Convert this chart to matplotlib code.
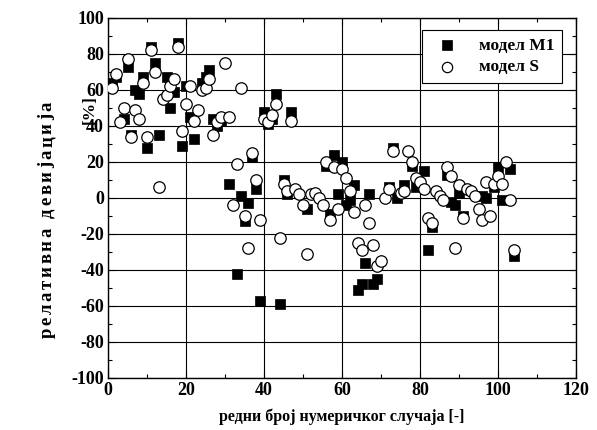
import matplotlib
matplotlib.use("Agg")
import matplotlib.pyplot as plt
from matplotlib.ticker import MultipleLocator

# ---- data ----
m1_case = [1, 2, 4, 5, 6, 7, 8, 9, 10, 11, 12, 13, 15, 16, 17, 18, 19, 20, 21, 22,
           24, 25, 26, 27, 28, 29, 31, 33, 34, 35, 36, 37, 38, 39, 40, 41, 42, 43, 44,
           45, 46, 47, 51, 56, 57, 58, 59, 60, 61, 62, 63, 64, 65, 66, 67, 68, 69,
           72, 73, 74, 76, 78, 79, 81, 82, 83, 87, 88, 89, 90, 91, 96, 97, 99, 100,
           101, 103, 104]
m1_val = [64, 67, 44, 73, 35, 60, 58, 67, 28, 84, 75, 35, 67, 50, 59, 86, 29, 62, 45, 33,
          64, 67, 71, 44, 40, 43, 8, -42, 1, -13, -3, 23, 5, -57, 48, 41, 44, 58, -59,
          10, 2, 48, -6, 18, -9, 24, 2, 20, -4, -1, 7, -51, -48, -36, 2, -48, -45,
          6, 28, 0, 7, 18, 6, 15, -29, -16, 13, -2, -4, 3, -10, 1, 0, 6, 17,
          -1, 16, -32]

s_case = [1, 2, 3, 4, 5, 6, 7, 8, 9, 10, 11, 12, 13, 14, 15, 16, 17, 18, 19, 20,
          21, 22, 23, 24, 25, 26, 27, 28, 29, 30, 31, 32, 33, 34, 35, 36, 37, 38, 39,
          40, 41, 42, 43, 44, 45, 46, 47, 48, 49, 50, 51, 52, 53, 54, 55, 56, 57, 58,
          59, 60, 61, 62, 63, 64, 65, 66, 67, 68, 69, 70, 71, 72, 73, 75, 76, 77, 78,
          79, 80, 81, 82, 83, 84, 85, 86, 87, 88, 89, 90, 91, 92, 93, 94, 95, 96, 97,
          98, 99, 100, 101, 102, 103, 104]
s_val = [61, 69, 42, 50, 77, 34, 49, 44, 64, 34, 82, 70, 6, 55, 57, 62, 66, 84, 37, 52,
         62, 43, 49, 60, 61, 66, 35, 42, 45, 75, 45, -4, 19, 61, -10, -28, 25, 10, -12,
         44, 42, 46, 52, -22, 8, 4, 43, 5, 2, -4, -31, 2, 3, 0, -4, 20, -12, 17,
         -6, 16, 11, 4, -8, -25, -29, -4, -14, -26, -38, -35, 0, 5, 26, 3, 4, 26, 20,
         11, 9, 5, -11, -14, 4, 1, -1, 17, 12, -28, 7, -11, 5, 4, 1, -6, -12, 9,
         -10, 8, 12, 8, 20, -1, -29]

x_ticks = [0, 20, 40, 60, 80, 100, 120]
y_ticks = [-100, -80, -60, -40, -20, 0, 20, 40, 60, 80, 100]

plt.rcParams['font.family'] = ['Liberation Serif', 'DejaVu Serif']
plt.rcParams['font.weight'] = 'bold'
plt.rcParams['axes.unicode_minus'] = False

W, H = 597, 430
fig = plt.figure(figsize=(W / 100, H / 100), dpi=100)
ax = fig.add_axes([108 / W, 1 - 378 / H, 468 / W, 360 / H])

ax.scatter(m1_case, m1_val, marker='s', s=55, c='black', edgecolors='black',
           linewidths=0.5, zorder=3, label='модел M1')
ax.scatter(s_case, s_val, marker='o', s=68, facecolors='white', edgecolors='black',
           linewidths=0.9, zorder=4, label='модел S')

ax.set_xlim(0, 120)
ax.set_ylim(-100, 100)
ax.set_xticks(x_ticks)
ax.set_yticks(y_ticks)
ax.xaxis.set_minor_locator(MultipleLocator(10))
ax.yaxis.set_minor_locator(MultipleLocator(10))
ax.tick_params(which='both', direction='in', top=True, right=True)
ax.tick_params(which='major', length=5, width=0.8, labelsize=13, pad=3)
ax.tick_params(which='minor', length=3, width=0.8)
for lab in ax.get_xticklabels() + ax.get_yticklabels():
    lab.set_fontweight('bold')
ax.grid(True, which='major', color='black', linewidth=0.8)
ax.set_axisbelow(True)
for sp in ax.spines.values():
    sp.set_linewidth(1.0)

ax.set_xlabel('редни број нумеричког случаја [-]', fontsize=11.5, fontweight='bold',
              labelpad=7)

# y label, spread over the height it takes in the reference
ylab = 'релативна девијација'
renderer = fig.canvas.get_renderer()
texts = []
widths = []
for ch in ylab:
    t = fig.text(0, 0, ch if ch != ' ' else '\u00a0', rotation=90, fontsize=13.5,
                 fontweight='bold', ha='center', va='bottom')
    bb = t.get_window_extent(renderer=renderer)
    texts.append(t)
    widths.append(bb.height)
y0, y1 = H - 338, H - 102
gap = max(0.0, (y1 - y0 - sum(widths)) / (len(ylab) - 1))
cur = y0
for t, w in zip(texts, widths):
    t.set_position((47 / W, cur / H))
    cur += w + gap
fig.text(90 / W, 1 - 110 / H, '[%]', rotation=90, fontsize=12.5,
         fontweight='bold', ha='center', va='center')

leg = ax.legend(loc='upper right', bbox_to_anchor=(0.970, 0.967), borderaxespad=0,
                frameon=True, fancybox=False, edgecolor='black', framealpha=1,
                handletextpad=0.8, borderpad=0.45, labelspacing=0.3,
                markerscale=0.9, prop={'weight': 'bold', 'size': 12.5})
leg.get_frame().set_linewidth(0.8)

fig.savefig('out.png', dpi=100)
